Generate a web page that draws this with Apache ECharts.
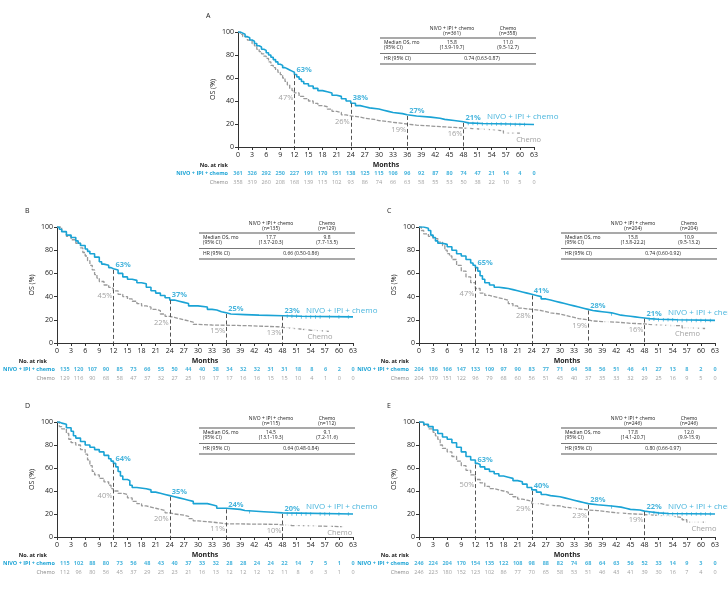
<!DOCTYPE html>
<html><head><meta charset="utf-8">
<script src="https://cdn.jsdelivr.net/npm/echarts@6/dist/echarts.min.js"></script>
<style>html,body{margin:0;padding:0;background:#fff}#c{width:728px;height:600px}</style>
</head><body><div id="c"></div><script>
// ---------- shared ticks ----------
const monthTicks = [0,3,6,9,12,15,18,21,24,27,30,33,36,39,42,45,48,51,54,57,60,63];
const yTicks = [0,20,40,60,80,100];
const landmarks = [12,24,36,48];
const rowNames = ['NIVO + IPI + chemo','Chemo'];

// ---------- Panel A ----------
const nivoA = [[0,100],[0.5,99],[1,98],[1.5,96],[2,95],[2.5,93],[3,92],[3.5,90],[4,88],[4.5,87],[5,85],[5.5,84],[6,82],[6.5,80],[7,78],[7.5,76],[8,74],[8.5,72],[9,71],[9.5,69],[10,68],[10.5,67],[11,66],[11.5,65],[12,63],[12.5,61],[13,59],[13.5,57],[14,55],[15,53],[16,51],[17,49],[18,48],[19,47],[20,45],[21,44],[22,42],[23,40],[24,38],[25,36],[26,35],[27,34],[28,33],[30,32],[31,31],[32,30],[33,29],[35,28],[36,27],[38,26],[41,25],[43,24],[44,23],[46,22],[48,21],[49,20.5],[52,20],[58,19.5],[63,19.5]];
const chemoA = [[0,100],[0.5,98],[1,96],[2,93],[3,90],[3.5,88],[4,85],[4.5,83],[5,81],[5.5,79],[6,77],[6.5,74],[7,71],[7.5,69],[8,67],[8.5,65],[9,63],[9.5,60],[10,57],[10.5,54],[11,51],[11.5,49],[12,47],[13,44],[14,42],[15,40],[16,38],[17,36],[18,35],[19,33],[20,31],[21,30],[22,28],[23,27],[24,26],[26,25],[27,24],[29,23],[30,22],[32,21],[34,20],[36,19],[38,18.5],[40,18],[42,17.5],[44,17],[46,16.5],[48,16],[50,15.5],[52,15],[54,14.5],[55.5,14],[56.5,12],[60,12]];
const nivoCensA = [49,50,51,52,53,54,55,56,57,58,59,60,61];
const chemoCensA = [49,50.5,52,53,54,55,57,58,59];
const nivoPctA = [63,38,27,21];
const chemoPctA = [47,26,19,16];
const riskNivoA = [361,326,292,250,227,191,170,151,138,125,115,106,96,92,87,80,74,47,21,14,4,0];
const riskChemoA = [358,319,260,208,168,139,115,102,93,86,74,66,63,58,55,53,50,38,22,10,5,0];
const tableA = ['361','358','15.8','(13.9-19.7)','11.0','(9.5-12.7)','0.74 (0.63-0.87)'];

// ---------- Panel B ----------
const nivoB = [[0,100],[0.5,98],[1,96],[2,93],[3,91],[4,88],[4.5,86],[5,84],[6,81],[6.5,79],[7,77],[8,74],[9,70],[9.5,68],[10,67],[11,65],[11.5,64],[12,63],[13,60],[14,57],[15,55],[16,54],[17,52],[18,51],[19,48],[20,45],[21,43],[22,41],[23,39],[24,37],[25,36],[26,35],[27,34],[28,32],[30,31],[32,29],[33,28.5],[34,27],[35,26],[36,25],[37,24.5],[40,24],[43,23.5],[48,23],[52,22.5],[63,22.5]];
const chemoB = [[0,100],[1,96],[2,92],[3,89],[4,86],[5,82],[5.5,78],[6,75],[6.5,71],[7,67],[7.5,63],[8,59],[8.5,56],[9,53],[10,50],[11,48],[11.5,47],[12,45],[13,42],[14,40],[15,38],[16,36],[17,34],[18,32],[19,31],[20,29],[21,28],[22,25],[23,23],[24,22],[25,21],[26,20],[27,19],[28,18],[29,16],[30,15.5],[33,15],[40,14],[47,13.5],[48,13],[49,12],[52,11],[54,10],[58,10]];
const nivoCensB = [49,50,51,52,53,54,55,56,58,60,62];
const chemoCensB = [49,50,51,53,55,56,57];
const nivoPctB = [63,37,25,23];
const chemoPctB = [45,22,15,13];
const riskNivoB = [135,120,107,90,85,73,66,55,50,44,40,38,34,32,32,31,31,18,8,6,2,0];
const riskChemoB = [129,116,90,68,58,47,37,32,27,25,19,17,17,16,16,15,15,10,4,1,0,0];
const tableB = ['135','129','17.7','(13.7-20.3)','9.8','(7.7-13.5)','0.66 (0.50-0.86)'];

// ---------- Panel C ----------
const nivoC = [[0,100],[1,99],[2,97],[2.5,93],[3,91],[3.5,88],[4,86],[5,85],[6,83],[7,80],[8,77],[9,75],[10,72],[11,69],[11.5,67],[12,65],[12.5,62],[13,58],[13.5,55],[14,52],[15,50],[16,48],[17,47.5],[18,47],[19,46],[20,45],[21,44],[22,43],[23,42],[24,41],[25,40],[26,38],[27,37],[28,36],[29,35],[30,34],[31,33],[32,32],[33,31],[34,30],[35,29],[36,28],[37,27.5],[38,27],[39,26.5],[40,26],[41,25],[42,24],[43,23.5],[44,23],[45,22.5],[46,22],[47,21.5],[48,21],[49,20.5],[51,20],[55,19.5],[63,19]];
const chemoC = [[0,100],[0.5,97],[1,94],[2,92],[3,90],[4,87],[5,84],[5.5,80],[6,77],[6.5,75],[7,72],[8,67],[9,62],[10,57],[11,52],[12,47],[13,43],[14,41],[15,40],[16,39],[17,38],[18,37],[19,34],[20,32],[21,30],[22,29.5],[23,29],[24,28],[26,27],[27,26],[28,25],[30,24],[31,23],[32,22],[33,21],[34,20],[36,19],[37,18.5],[39,18],[42,17],[45,16.5],[48,16],[49,15.5],[51,15],[54,15],[56,13],[57,12.5],[61,12.5]];
const nivoCensC = [41,49,50,51,52,53,54,55,56,57,58,59,60,61,62];
const chemoCensC = [40,50,51,52,53,54,57,58,59,60];
const nivoPctC = [65,41,28,21];
const chemoPctC = [47,28,19,16];
const riskNivoC = [204,186,166,147,133,109,97,90,83,77,71,64,58,56,51,46,41,27,13,8,2,0];
const riskChemoC = [204,179,151,122,96,79,68,60,56,51,45,40,37,35,33,32,29,25,16,9,5,0];
const tableC = ['204','204','15.8','(13.8-22.2)','10.9','(9.5-13.2)','0.74 (0.60-0.92)'];

// ---------- Panel D ----------
const nivoD = [[0,100],[0.5,99],[1,98],[2,95],[3,92],[3.5,88],[4,86],[5,83],[6,80],[7,78],[8,76],[9,74],[10,71],[11,68],[11.5,66],[12,64],[12.5,61],[13,57],[13.5,53],[14,50],[15,49],[15.5,45],[16,43],[17,42],[19,41],[20,39],[21,38],[22,37],[23,36],[24,35],[25,34],[26,33],[27,32],[28,31],[29,29],[32,28],[33,27],[34,25],[36,24],[39,23],[40,22],[44,21.5],[46,21],[48,20],[63,20]];
const chemoD = [[0,100],[0.5,96],[1,94],[2,90],[2.5,85],[3,82],[4,80],[5,76],[6,72],[6.5,67],[7,62],[7.5,57],[8,54],[9,51],[10,48],[11,45],[11.5,42],[12,40],[13,38],[14,37],[15,34],[16,31],[17,29],[18,27],[19,26],[20,25],[21,24],[22,23],[23,21],[24,20],[25,19.5],[26,19],[27,18],[28,16],[29,14],[30,13],[33,12],[35,11.5],[36,11],[47,10.5],[48,10],[50,9],[61,9]];
const nivoCensD = [41,49,50,51,52,53,54,56,57,58,60,62];
const chemoCensD = [49,51,52,53,54,55,58,61];
const nivoPctD = [64,35,24,20];
const chemoPctD = [40,20,11,10];
const riskNivoD = [115,102,88,80,73,56,48,43,40,37,33,32,28,28,24,24,22,14,7,5,1,0];
const riskChemoD = [112,96,80,56,45,37,29,25,23,21,16,13,12,12,12,12,11,8,6,3,1,0];
const tableD = ['115','112','14.5','(13.1-19.3)','9.1','(7.2-11.6)','0.64 (0.48-0.84)'];

// ---------- Panel E ----------
const nivoE = [[0,100],[1,98],[2,96],[3,93],[4,90],[5,87],[6,85],[7,82],[8,78],[9,74],[10,70],[11,67],[12,64],[12.5,63],[13,61],[14,59],[15,57],[16,55],[17,53],[18,52],[19,51],[20,49],[21,48],[22,46],[23,43],[24,41],[25,39],[26,37],[27,36],[28,35],[30,34],[31,33],[32,32],[33,31],[34,30],[35,29],[36,28],[38,27],[41,26],[43,25],[44,24],[45,23.5],[47,22.5],[48,22],[49,21],[51,20.5],[53,20],[63,19.5]];
const chemoE = [[0,100],[1,97],[2,94],[3,91],[3.5,88],[4,85],[4.5,80],[5,77],[6,74],[7,70],[8,66],[9,62],[10,58],[11,54],[12,50],[13,47],[14,44],[15,42],[16,41],[17,40],[18,39],[19,37],[20,35],[21,33],[22,32],[23,31],[24,29],[26,28],[27,27.5],[28,27],[30,26],[31,25],[33,24],[35,23.5],[36,23],[38,22],[40,21],[42,20.5],[44,20],[46,19.5],[48,19],[50,18.5],[52,18],[54,17.5],[55,17],[56,15],[57,13],[61,13]];
const nivoCensE = [41,49,50,51,52,53,54,55,56,57,58,59,60,61,62];
const chemoCensE = [25,28,33,43,49,51,52,53,54,58,59,60];
const nivoPctE = [63,40,28,22];
const chemoPctE = [50,29,23,19];
const riskNivoE = [246,224,204,170,154,135,122,108,98,88,82,74,68,64,63,56,52,33,14,9,3,0];
const riskChemoE = [246,223,180,152,123,102,86,77,70,65,58,53,51,46,43,41,39,30,16,7,4,0];
const tableE = ['246','246','17.8','(14.1-20.7)','12.0','(9.9-15.9)','0.80 (0.66-0.97)'];

// ---------- layout (positions / styles only) ----------
const CYAN = '#1aa3d5', GRAY = '#999999', DARK = '#333333';
const FONT = '"Open Sans", "Noto Sans", sans-serif';
const W = 296;
const layout = [
  {id:'A', left:238, top:32,  h:115, nivoLbl:[53,26], chemoLbl:[59.2,6]},
  {id:'B', left:57,  top:227, h:116, nivoLbl:[53,27.5], chemoLbl:[53.3,5]},
  {id:'C', left:419, top:227, h:116, nivoLbl:[53,26], chemoLbl:[54.5,7.5]},
  {id:'D', left:57,  top:422, h:115, nivoLbl:[53,26], chemoLbl:[57.5,3.5]},
  {id:'E', left:419, top:422, h:115, nivoLbl:[53,26], chemoLbl:[58,7.5]}
];
const panels = [
  {nivo:nivoA, chemo:chemoA, nc:nivoCensA, cc:chemoCensA, np:nivoPctA, cp:chemoPctA, rn:riskNivoA, rc:riskChemoA, tb:tableA},
  {nivo:nivoB, chemo:chemoB, nc:nivoCensB, cc:chemoCensB, np:nivoPctB, cp:chemoPctB, rn:riskNivoB, rc:riskChemoB, tb:tableB},
  {nivo:nivoC, chemo:chemoC, nc:nivoCensC, cc:chemoCensC, np:nivoPctC, cp:chemoPctC, rn:riskNivoC, rc:riskChemoC, tb:tableC},
  {nivo:nivoD, chemo:chemoD, nc:nivoCensD, cc:chemoCensD, np:nivoPctD, cp:chemoPctD, rn:riskNivoD, rc:riskChemoD, tb:tableD},
  {nivo:nivoE, chemo:chemoE, nc:nivoCensE, cc:chemoCensE, np:nivoPctE, cp:chemoPctE, rn:riskNivoE, rc:riskChemoE, tb:tableE}
];

function stepAt(curve, t){ let v = curve[0][1]; for (const p of curve){ if (p[0] <= t) v = p[1]; else break; } return v; }

const grid = [], xAxis = [], yAxis = [], series = [], graphic = [];
layout.forEach((L, i) => {
  const P = panels[i];
  const gi = grid.length;
  grid.push({left:L.left, top:L.top, width:W, height:L.h, containLabel:false});
  grid.push({left:L.left, top:L.top + L.h + 22, width:W, height:18, containLabel:false});
  xAxis.push({gridIndex:gi, type:'value', min:0, max:63, interval:3,
    axisLine:{show:true, onZero:false, lineStyle:{color:DARK, width:1}},
    axisTick:{show:true, length:3, lineStyle:{color:DARK}},
    axisLabel:{fontSize:7, color:'#222', margin:4, fontFamily:FONT},
    splitLine:{show:false},
    name:'Months', nameLocation:'middle', nameGap:14,
    nameTextStyle:{fontSize:7, fontWeight:'bold', color:'#222', fontFamily:FONT}});
  yAxis.push({gridIndex:gi, type:'value', min:0, max:100, interval:20,
    axisLine:{show:true, lineStyle:{color:DARK, width:1}},
    axisTick:{show:true, length:3, lineStyle:{color:DARK}},
    axisLabel:{fontSize:7, color:'#222', margin:4, fontFamily:FONT},
    splitLine:{show:false},
    name:'OS (%)', nameLocation:'middle', nameGap:22, nameRotate:90,
    nameTextStyle:{fontSize:7, color:'#222', fontFamily:FONT}});
  xAxis.push({gridIndex:gi+1, type:'value', min:0, max:63, show:false});
  yAxis.push({gridIndex:gi+1, type:'category', data:rowNames, inverse:true,
    axisLine:{show:false}, axisTick:{show:false}, splitLine:{show:false},
    axisLabel:{margin:10, interval:0, hideOverlap:false, fontFamily:FONT,
      formatter:(v, k) => k === 0 ? '{n|' + v + '}' : '{c|' + v + '}',
      rich:{n:{color:CYAN, fontSize:5.5, fontWeight:'bold', fontFamily:FONT}, c:{color:'#888', fontSize:5.5, fontFamily:FONT}}}});
  const xi = gi, yi = gi;
  // chemo curve
  series.push({type:'line', xAxisIndex:xi, yAxisIndex:yi, step:'end', data:P.chemo, symbol:'none', silent:true, z:3,
    lineStyle:{color:GRAY, width:1.3, type:[4,1.5]}});
  // nivo curve with landmark dashed lines
  series.push({type:'line', xAxisIndex:xi, yAxisIndex:yi, step:'end', data:P.nivo, symbol:'none', silent:true, z:4,
    lineStyle:{color:CYAN, width:1.6},
    markLine:{silent:true, symbol:'none', label:{show:false},
      lineStyle:{color:'#555', width:1, type:[4,2.5]},
      data: landmarks.map((m, k) => [{coord:[m, P.np[k]]}, {coord:[m, 0]}])}});
  // censoring marks
  series.push({type:'scatter', xAxisIndex:xi, yAxisIndex:yi, silent:true, z:5,
    data:P.nc.map(t => [t, stepAt(P.nivo, t)]), symbol:'rect', symbolSize:[0.8,3.5],
    itemStyle:{color:CYAN}});
  series.push({type:'scatter', xAxisIndex:xi, yAxisIndex:yi, silent:true, z:3,
    data:P.cc.map(t => [t, stepAt(P.chemo, t)]), symbol:'emptyCircle', symbolSize:2.2,
    itemStyle:{color:'#fff', borderColor:GRAY, borderWidth:0.6}});
  // percentage labels
  series.push({type:'scatter', xAxisIndex:xi, yAxisIndex:yi, silent:true, z:6, symbolSize:0,
    data:landmarks.map((m, k) => [m, P.np[k]]),
    label:{show:true, position:'right', distance:2, offset:[0,-5], formatter:p => p.value[1] + '%',
      color:CYAN, fontSize:7.5, fontWeight:'bold', fontFamily:FONT}});
  series.push({type:'scatter', xAxisIndex:xi, yAxisIndex:yi, silent:true, z:6, symbolSize:0,
    data:landmarks.map((m, k) => [m, P.cp[k]]),
    label:{show:true, position:'left', distance:1, offset:[0,5], formatter:p => p.value[1] + '%',
      color:'#8a8a8a', fontSize:7.5, fontFamily:FONT}});
  // curve names
  series.push({type:'scatter', xAxisIndex:xi, yAxisIndex:yi, silent:true, z:6, symbolSize:0,
    data:[L.nivoLbl],
    label:{show:true, position:'right', distance:0, formatter:rowNames[0], color:CYAN, fontSize:8, fontFamily:FONT}});
  series.push({type:'scatter', xAxisIndex:xi, yAxisIndex:yi, silent:true, z:6, symbolSize:0,
    data:[L.chemoLbl],
    label:{show:true, position:'right', distance:0, formatter:rowNames[1], color:'#8a8a8a', fontSize:7.5, fontFamily:FONT}});
  // risk table rows
  series.push({type:'scatter', xAxisIndex:xi+1, yAxisIndex:yi+1, silent:true, symbolSize:0,
    data:monthTicks.map((m, k) => [m, rowNames[0], P.rn[k]]),
    label:{show:true, position:'inside', formatter:p => p.value[2], color:CYAN, fontSize:5.5, fontWeight:'bold', fontFamily:FONT}});
  series.push({type:'scatter', xAxisIndex:xi+1, yAxisIndex:yi+1, silent:true, symbolSize:0,
    data:monthTicks.map((m, k) => [m, rowNames[1], P.rc[k]]),
    label:{show:true, position:'inside', formatter:p => p.value[2], color:'#888', fontSize:5.5, fontFamily:FONT}});

  // ---- graphics: panel letter, "No. at risk", summary table ----
  const x0 = L.left, t0 = L.top;
  const txt = (x, y, s, o) => graphic.push(Object.assign({type:'text', silent:true, x:x, y:y,
    style:Object.assign({text:s, fill:'#222', fontSize:5, fontFamily:FONT, align:'left', verticalAlign:'middle'}, o || {})}));
  const ln = (y, w) => graphic.push({type:'line', silent:true, shape:{x1:x0+142, y1:y, x2:x0+298, y2:y},
    style:{stroke:w > 1 ? '#8c8c8c' : '#555', lineWidth:w}});
  txt(x0 - 32, t0 - 16, L.id, {fontSize:7, verticalAlign:'middle'});
  txt(x0 - 10, t0 + L.h + 18, 'No. at risk', {align:'right', fontSize:5.5, fontWeight:'bold'});
  const cN = x0 + 214, cC = x0 + 270;
  txt(cN, t0 - 3.5, 'NIVO + IPI + chemo', {align:'center'});
  txt(cN, t0 + 1.5, '(n=' + P.tb[0] + ')', {align:'center'});
  txt(cC, t0 - 3.5, 'Chemo', {align:'center'});
  txt(cC, t0 + 1.5, '(n=' + P.tb[1] + ')', {align:'center'});
  ln(t0 + 6, 1.6);
  txt(x0 + 146, t0 + 11, 'Median OS, mo');
  txt(x0 + 146, t0 + 16, '(95% CI)');
  txt(cN, t0 + 11, P.tb[2], {align:'center'});
  txt(cN, t0 + 16, P.tb[3], {align:'center'});
  txt(cC, t0 + 11, P.tb[4], {align:'center'});
  txt(cC, t0 + 16, P.tb[5], {align:'center'});
  ln(t0 + 21.5, 0.8);
  txt(x0 + 146, t0 + 27, 'HR (95% CI)');
  txt(x0 + 244, t0 + 27, P.tb[6], {align:'center'});
  ln(t0 + 32, 1.6);
});

const chart = echarts.init(document.getElementById('c'), null, {renderer:'canvas'});
chart.setOption({animation:false, backgroundColor:'#fff', textStyle:{fontFamily:FONT},
  grid, xAxis, yAxis, series, graphic});
</script></body></html>
